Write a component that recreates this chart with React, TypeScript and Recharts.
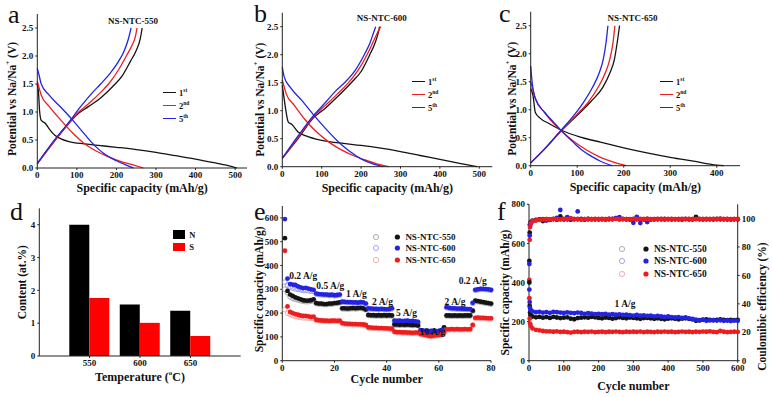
import React from 'react'
import {
  LineChart, Line, BarChart, Bar, ScatterChart, Scatter, XAxis, YAxis, Label, ReferenceDot,
} from 'recharts'

const W = 773
const H = 397
const FONT = '"Liberation Serif", "Times New Roman", serif'
const INK = '#111'
const BLACK = '#141414'
const RED = '#ee1d1d'
const BLUE = '#2323e0'
const GRAY_RING = '#9a9a9a'
const BLUE_RING = '#8f8ff0'
const RED_RING = '#f29a9a'

// ---- a-c: galvanostatic curves, [capacity mAh/g, potential V]
const a1Dis = [[0, 1.5], [3, 1.35], [6, 1.0], [10, 0.85], [20, 0.8], [30, 0.7], [45, 0.58], [60, 0.52], [80, 0.47], [120, 0.43], [160, 0.4], [200, 0.37], [250, 0.33], [300, 0.28], [350, 0.22], [400, 0.16], [450, 0.09], [490, 0.03], [505, 0]]
const a2Dis = [[0, 1.55], [10, 1.3], [30, 1.1], [60, 0.85], [90, 0.62], [120, 0.43], [150, 0.3], [180, 0.2], [210, 0.12], [240, 0.06], [268, 0]]
const a5Dis = [[0, 1.78], [3, 1.7], [10, 1.5], [30, 1.3], [60, 1.08], [90, 0.85], [120, 0.6], [145, 0.4], [170, 0.25], [200, 0.13], [225, 0.05], [243, 0]]
const a1Chg = [[0, 0.08], [40, 0.45], [80, 0.8], [100, 0.95], [130, 1.1], [160, 1.25], [190, 1.45], [215, 1.65], [235, 1.9], [250, 2.1], [260, 2.3], [265, 2.5]]
const a2Chg = [[0, 0.08], [40, 0.45], [80, 0.8], [100, 0.97], [130, 1.15], [160, 1.35], [180, 1.5], [205, 1.75], [225, 2.0], [240, 2.2], [248, 2.35], [252, 2.5]]
const a5Chg = [[0, 0.08], [40, 0.47], [80, 0.82], [110, 1.1], [140, 1.35], [160, 1.5], [185, 1.7], [205, 1.9], [220, 2.1], [230, 2.3], [237, 2.5]]

const b1Dis = [[0, 1.45], [3, 1.3], [8, 1.05], [15, 0.8], [25, 0.75], [40, 0.62], [60, 0.55], [100, 0.47], [150, 0.42], [200, 0.38], [250, 0.33], [300, 0.27], [350, 0.2], [400, 0.13], [450, 0.06], [495, 0]]
const b2Dis = [[0, 1.55], [10, 1.3], [30, 1.1], [60, 0.82], [90, 0.6], [120, 0.43], [150, 0.3], [180, 0.2], [210, 0.12], [240, 0.05], [270, 0]]
const b5Dis = [[0, 1.78], [5, 1.6], [20, 1.42], [50, 1.18], [80, 0.92], [110, 0.68], [140, 0.46], [170, 0.28], [200, 0.14], [230, 0.05], [255, 0]]
const b1Chg = [[0, 0.15], [40, 0.5], [80, 0.88], [110, 1.05], [140, 1.25], [175, 1.5], [200, 1.7], [222, 2.0], [235, 2.2], [242, 2.35], [247, 2.5]]
const b2Chg = [[0, 0.15], [40, 0.52], [80, 0.9], [110, 1.1], [140, 1.3], [168, 1.5], [195, 1.75], [215, 2.0], [232, 2.25], [242, 2.4], [250, 2.5]]
const b5Chg = [[0, 0.15], [40, 0.55], [80, 0.92], [110, 1.15], [135, 1.35], [158, 1.5], [185, 1.72], [208, 2.0], [222, 2.2], [232, 2.4], [237, 2.5]]

const c1Dis = [[0, 1.38], [5, 1.25], [10, 0.95], [20, 0.85], [40, 0.75], [70, 0.62], [100, 0.53], [150, 0.42], [200, 0.32], [250, 0.23], [300, 0.15], [350, 0.08], [400, 0.01], [415, 0]]
const c2Dis = [[0, 1.5], [10, 1.2], [30, 0.95], [50, 0.75], [65, 0.63], [90, 0.45], [120, 0.28], [150, 0.15], [180, 0.06], [205, 0]]
const c5Dis = [[0, 1.78], [3, 1.5], [10, 1.2], [30, 0.95], [50, 0.77], [65, 0.63], [90, 0.43], [110, 0.28], [130, 0.17], [150, 0.08], [175, 0]]
const c1Chg = [[0, 0.05], [30, 0.3], [65, 0.62], [100, 0.9], [130, 1.15], [155, 1.4], [170, 1.65], [180, 1.9], [186, 2.2], [191, 2.5]]
const c2Chg = [[0, 0.05], [30, 0.3], [65, 0.62], [100, 0.92], [125, 1.15], [145, 1.4], [160, 1.65], [170, 1.9], [177, 2.2], [181, 2.5]]
const c5Chg = [[0, 0.05], [30, 0.3], [65, 0.63], [95, 0.92], [115, 1.15], [133, 1.4], [147, 1.65], [156, 1.9], [162, 2.2], [166, 2.5]]

// ---- d: heteroatom content
const temps = ['550', '600', '650']
const nContent = [4.0, 1.57, 1.38]
const sContent = [1.77, 1.01, 0.61]

// ---- e: rate test, cycles 1-80
const rateCycles = Array.from({ length: 80 }, (_, i) => i + 1)
const e550 = [515, 293, 278, 272, 266, 262, 258, 254, 252, 252, 254, 258,
  242, 240, 240, 238, 238, 240, 240, 242, 243, 245,
  220, 220, 219, 220, 221, 220, 221, 222, 220, 215,
  192, 191, 191, 190, 191, 190, 191, 190, 191, 190,
  152, 152, 151, 152, 151, 152, 151, 150, 151, 148,
  120, 118, 117, 118, 117, 116, 118, 117, 120, 140,
  190, 190, 189, 190, 189, 190, 189, 190, 190, 190,
  210, 252, 250, 248, 246, 244, 242, 240]
const e600 = [595, 345, 322, 320, 318, 312, 308, 305, 306, 303, 300, 298,
  282, 280, 279, 278, 278, 276, 277, 275, 276, 278,
  248, 247, 246, 246, 245, 245, 244, 246, 245, 240,
  220, 219, 218, 218, 217, 218, 217, 216, 217, 220,
  168, 167, 168, 166, 167, 168, 166, 167, 165, 163,
  128, 126, 125, 124, 125, 126, 124, 125, 128, 130,
  225, 222, 220, 220, 219, 219, 218, 218, 217, 217,
  243, 298, 300, 302, 302, 301, 300, 298]
const e650 = [462, 228, 205, 200, 196, 193, 190, 188, 188, 186, 184, 185,
  172, 170, 169, 168, 168, 167, 168, 168, 167, 168,
  158, 156, 155, 155, 154, 154, 153, 153, 152, 150,
  140, 139, 138, 138, 137, 137, 136, 136, 135, 135,
  122, 120, 120, 119, 119, 118, 118, 117, 118, 118,
  112, 110, 108, 105, 103, 105, 107, 108, 110, 118,
  132, 132, 133, 132, 133, 132, 132, 133, 132, 133,
  150, 180, 181, 180, 180, 179, 178, 178]
const e550Open = [300, 285, 268, 262, 258, 255, 252, 250, 248, 248, 250, 252,
  240, 238, 238, 236, 236, 238, 238, 240, 241, 243,
  218, 218, 217, 218, 219, 218, 219, 220, 218, 214,
  190, 189, 189, 188, 189, 188, 189, 188, 189, 188,
  150, 150, 149, 150, 149, 150, 149, 148, 149, 147,
  118, 116, 115, 116, 115, 114, 116, 115, 118, 138,
  188, 188, 187, 188, 187, 188, 187, 188, 188, 188,
  208, 250, 248, 246, 244, 242, 240, 238]
const e600Open = [330, 318, 310, 305, 302, 300, 298, 296, 296, 294, 292, 292,
  280, 278, 277, 276, 276, 274, 275, 273, 274, 276,
  246, 245, 244, 244, 243, 243, 242, 244, 243, 238,
  218, 217, 216, 216, 215, 216, 215, 214, 215, 218,
  166, 165, 166, 164, 165, 166, 164, 165, 163, 161,
  126, 124, 123, 122, 123, 124, 122, 123, 126, 128,
  223, 220, 218, 218, 217, 217, 216, 216, 215, 215,
  241, 296, 298, 300, 300, 299, 298, 296]
const e650Open = [215, 200, 195, 190, 186, 184, 182, 180, 180, 178, 178, 178,
  170, 168, 167, 166, 166, 165, 166, 166, 165, 166,
  156, 154, 153, 153, 152, 152, 151, 151, 150, 148,
  138, 137, 136, 136, 135, 135, 134, 134, 133, 133,
  120, 118, 118, 117, 117, 116, 116, 115, 116, 116,
  110, 108, 106, 103, 101, 103, 105, 106, 108, 116,
  130, 130, 131, 130, 131, 130, 130, 131, 130, 131,
  148, 178, 179, 178, 178, 177, 176, 176]
const rateSteps = [
  { c: 8, v: 359, t: '0.2 A/g' }, { c: 18.4, v: 316, t: '0.5 A/g' }, { c: 28.4, v: 282, t: '1 A/g' },
  { c: 38.4, v: 249, t: '2 A/g' }, { c: 47.6, v: 202, t: '5 A/g' }, { c: 57.6, v: 122, t: '10 A/g' },
  { c: 66.2, v: 249, t: '2 A/g' }, { c: 73, v: 337, t: '0.2 A/g' },
]

// ---- f: long cycling at 1 A/g
const longCycles = [1, 2, 3, 5,
  10, 20, 30, 40, 50, 60, 70, 80, 90, 100,
  110, 120, 130, 140, 150, 160, 170, 180, 190, 200,
  210, 220, 230, 240, 250, 260, 270, 280, 290, 300,
  310, 320, 330, 340, 350, 360, 370, 380, 390, 400,
  410, 420, 430, 440, 450, 460, 470, 480, 490, 500,
  510, 520, 530, 540, 550, 560, 570, 580, 590, 600]
const f550Cap = [510, 280, 245, 232,
  226, 222, 224, 220, 223, 219, 224, 221, 218, 220,
  222, 215, 212, 218, 220, 222, 220, 224, 222, 219,
  217, 221, 219, 215, 218, 222, 219, 217, 221, 219,
  217, 214, 218, 219, 217, 214, 217, 214, 212, 215,
  217, 214, 212, 215, 217, 214, 211, 204, 207, 209,
  211, 209, 207, 209, 211, 209, 207, 209, 207, 209]
const f600Cap = [495, 300, 270, 258,
  252, 248, 250, 246, 248, 245, 250, 248, 246, 244,
  247, 245, 243, 246, 244, 240, 243, 241, 238, 240,
  238, 240, 236, 238, 235, 237, 234, 236, 233, 231,
  234, 230, 232, 229, 231, 227, 229, 226, 224, 226,
  223, 221, 223, 219, 221, 217, 214, 210, 206, 210,
  204, 206, 208, 205, 207, 204, 206, 203, 205, 204]
const f650Cap = [413, 215, 190, 178,
  165, 158, 155, 152, 150, 150, 148, 150, 147, 148,
  146, 144, 147, 148, 146, 148, 147, 149, 146, 147,
  148, 146, 148, 147, 149, 147, 146, 148, 147, 148,
  147, 149, 146, 148, 147, 146, 148, 147, 149, 147,
  148, 146, 147, 149, 147, 148, 146, 148, 147, 149,
  148, 150, 147, 146, 152, 148, 146, 147, 148, 147]
const f550Ce = [55, 90, 96, 97.5,
  98.5, 99, 99.3, 98.2, 99.5, 99, 99.6, 99.2, 101.5, 99.4,
  99.5, 99.2, 99.6, 99.4, 99.7, 99.3, 99.5, 99.6, 99.4, 99.5,
  99.6, 99.3, 99.5, 99.7, 100.2, 99.4, 99.6, 99.5, 99.3, 99.6,
  99.5, 99.4, 99.6, 99.7, 99.3, 99.5, 99.6, 99.4, 99.5, 99.6,
  99.4, 99.6, 99.5, 99.3, 99.6, 99.5, 99.4, 101.2, 99.6, 99.5,
  99.4, 99.6, 99.5, 99.7, 99.4, 99.6, 99.5, 99.3, 99.6, 99.5]
const f600Ce = [50, 88, 95, 97,
  98, 98.8, 99.2, 99.5, 98.6, 99.3, 99.6, 100.4, 106, 99.5,
  101, 99.4, 99.6, 105, 99.3, 99.5, 99.7, 99.4, 99.6, 99.5,
  99.4, 99.6, 99.8, 99.5, 100.3, 101, 99.6, 99.4, 99.5, 97,
  101.2, 96.8, 99.3, 97.5, 99.6, 99.5, 99.4, 99.7, 99.5, 99.6,
  99.5, 99.4, 99.6, 99.5, 99.7, 99.4, 99.5, 99.6, 99.4, 99.5,
  99.6, 99.5, 99.4, 99.6, 99.7, 99.5, 99.4, 99.6, 99.5, 99.4]
const f650Ce = [44, 85, 94, 96.5,
  98, 98.6, 99, 99.2, 99.5, 99.4, 99.7, 99.6, 99.3, 99.8,
  99.6, 100.2, 99.5, 99.7, 99.4, 99.6, 99.8, 99.5, 99.7, 99.6,
  99.8, 99.5, 99.7, 99.6, 99.8, 99.5, 99.7, 99.6, 99.4, 99.7,
  99.6, 99.8, 99.5, 99.7, 99.6, 99.4, 99.7, 99.6, 99.8, 99.5,
  99.7, 99.6, 99.5, 99.8, 99.6, 99.7, 99.5, 99.6, 99.8, 99.5,
  99.7, 99.6, 99.8, 99.5, 99.9, 99.6, 99.7, 99.5, 99.6, 99.7]

const pts = (arr: number[][]) => arr.map(([c, v]) => ({ c, v }))
const zipC = (xs: number[], ys: number[]) => xs.map((c, i) => ({ c, v: ys[i] }))

const abs: React.CSSProperties = { position: 'absolute', left: 0, top: 0 }
const tickFont = { fontSize: 9, fontWeight: 700, fill: INK, fontFamily: FONT }
const axisLine = { stroke: '#222', strokeWidth: 1 }
const axisProps = { tick: tickFont, tickSize: 2, tickMargin: 2, axisLine, tickLine: { stroke: '#222' } }

// plot box [x0, y0, x1, y1] -> chart margin
const mg = (b: number[], yw: number, xh: number, rw = 0) =>
  ({ left: b[0] - yw, top: b[1], right: W - b[2] - rw, bottom: H - b[3] - xh })

const vTitle = (text: React.ReactNode, dx: number, dy = 0) => (p: any) => {
  const { x, y, height } = p.viewBox
  return (
    <text transform={`translate(${x + dx},${y + height / 2 + dy}) rotate(-90)`} textAnchor="middle"
      dominantBaseline="central" fontSize={11.5} fontWeight={700} fontFamily={FONT} fill={INK}>{text}</text>
  )
}
const hTitle = (text: React.ReactNode, dy: number, dx = 0) => (p: any) => {
  const { x, y, width } = p.viewBox
  return (
    <text x={x + width / 2 + dx} y={y + dy} textAnchor="middle" dominantBaseline="central"
      fontSize={12} fontWeight={700} fontFamily={FONT} fill={INK}>{text}</text>
  )
}

const potential = <>Potential vs Na/Na<tspan dy={-4} fontSize={7}>+</tspan><tspan dy={4}> (V)</tspan></>

function Letter({ ch, x, y }: { ch: string; x: number; y: number }) {
  return <div style={{ position: 'absolute', left: x, top: y, fontSize: 26, fontFamily: FONT, lineHeight: 1, color: INK }}>{ch}</div>
}

function CurveLegend({ x, y }: { x: number; y: number }) {
  const rows = [['1', 'st', BLACK], ['2', 'nd', RED], ['5', 'th', BLUE]]
  return (
    <div style={{ position: 'absolute', left: x, top: y, fontFamily: FONT, fontWeight: 700, fontSize: 8.5, color: INK }}>
      {rows.map(([n, s, col]) => (
        <div key={n} style={{ display: 'flex', alignItems: 'center', height: 13 }}>
          <div style={{ width: 13, height: 1.5, background: col, marginRight: 3 }} />
          <span>{n}<sup style={{ fontSize: 5.5 }}>{s}</sup></span>
        </div>
      ))}
    </div>
  )
}

function Title({ text, cx, cy }: { text: string; cx: number; cy: number }) {
  return <div style={{ position: 'absolute', left: cx - 40, top: cy - 6, width: 80, textAlign: 'center', fontFamily: FONT, fontWeight: 700, fontSize: 9, color: INK }}>{text}</div>
}

function CurvePanel({ box, yw, ydx, ydy, xdy, xMax, xTicks, curves }: any) {
  return (
    <div style={abs}>
      <LineChart width={W} height={H} margin={mg(box, yw, 30)}>
        <XAxis type="number" dataKey="c" domain={[0, xMax]} ticks={xTicks} height={30} {...axisProps}>
          <Label content={hTitle('Specific capacity (mAh/g)', xdy)} />
        </XAxis>
        <XAxis xAxisId="top" orientation="top" type="number" dataKey="c" domain={[0, xMax]} height={0} tick={false} tickLine={false} axisLine={axisLine} />
        <YAxis type="number" domain={[0, 2.75]} ticks={[0, 0.5, 1, 1.5, 2, 2.5]} tickFormatter={(v: number) => v.toFixed(1)} width={yw} {...axisProps}>
          <Label content={vTitle(potential, ydx, ydy)} />
        </YAxis>
        <YAxis yAxisId="r" orientation="right" type="number" domain={[0, 1]} width={0} tick={false} tickLine={false} axisLine={axisLine} />
        {curves.map(([d, col]: any, i: number) => (
          <Line key={i} data={pts(d)} dataKey="v" type="monotone" stroke={col} strokeWidth={1.3} dot={false} isAnimationActive={false} />
        ))}
      </LineChart>
    </div>
  )
}

const dot = (fill: string) => (p: any) => <circle cx={p.cx} cy={p.cy} r={2.4} fill={fill} />
const ring = (stroke: string) => (p: any) => <circle cx={p.cx} cy={p.cy} r={2.4} fill="none" stroke={stroke} strokeWidth={0.8} />

function MarkLegend({ x, y, gap, rows, size }: any) {
  return (
    <div style={{ position: 'absolute', left: x, top: y, fontFamily: FONT, fontWeight: 700, fontSize: size, color: INK }}>
      {rows.map(([label, ringCol, dotCol]: string[]) => (
        <div key={label} style={{ display: 'flex', alignItems: 'center', height: gap }}>
          <svg width={gap * 2.6} height={8} style={{ marginRight: 4 }}>
            <circle cx={4} cy={4} r={2.6} fill="none" stroke={ringCol} strokeWidth={0.8} />
            <circle cx={gap * 2.6 - 4} cy={4} r={2.6} fill={dotCol} />
          </svg>
          <span>{label}</span>
        </div>
      ))}
    </div>
  )
}

export default function App() {
  const boxA = [37.3, 14, 247, 168]
  const boxB = [282.3, 12.7, 492.3, 166.7]
  const boxC = [530.7, 11.7, 740, 165.7]
  const boxD = [39.3, 208.3, 240.7, 356]
  const boxE = [282.3, 206, 491, 360.7]
  const boxF = [529, 204.3, 737.7, 360.7]
  const barData = temps.map((t, i) => ({ t, N: nContent[i], S: sContent[i] }))

  return (
    <div style={{ position: 'fixed', left: 0, top: 0, width: W, height: H, background: '#fff', fontFamily: FONT, overflow: 'hidden' }}>
      <CurvePanel box={boxA} yw={37.3} ydx={12} ydy={8} xdy={20} xMax={530} xTicks={[0, 100, 200, 300, 400, 500]}
        curves={[[a1Dis, BLACK], [a1Chg, BLACK], [a2Dis, RED], [a2Chg, RED], [a5Dis, BLUE], [a5Chg, BLUE]]} />
      <CurvePanel box={boxB} yw={28} ydx={6} ydy={10} xdy={21} xMax={533} xTicks={[0, 100, 200, 300, 400, 500]}
        curves={[[b1Dis, BLACK], [b1Chg, BLACK], [b2Dis, RED], [b2Chg, RED], [b5Dis, BLUE], [b5Chg, BLUE]]} />
      <CurvePanel box={boxC} yw={28} ydx={9} ydy={10} xdy={21} xMax={450} xTicks={[0, 100, 200, 300, 400]}
        curves={[[c1Dis, BLACK], [c1Chg, BLACK], [c2Dis, RED], [c2Chg, RED], [c5Dis, BLUE], [c5Chg, BLUE]]} />

      <div style={abs}>
        <BarChart width={W} height={H} margin={mg(boxD, 39.3, 30)} data={barData} barGap={0} barSize={20}>
          <XAxis dataKey="t" padding={{ left: 25, right: 25 }} height={30} {...axisProps}>
            <Label content={hTitle(<>Temperature (<tspan dy={-4} fontSize={7}>o</tspan><tspan dy={4}>C)</tspan></>, 21)} />
          </XAxis>
          <XAxis xAxisId="top" orientation="top" dataKey="t" height={0} tick={false} tickLine={false} axisLine={axisLine} />
          <YAxis type="number" domain={[0, 4.5]} ticks={[0, 1, 2, 3, 4]} width={39.3} {...axisProps}>
            <Label content={vTitle('Content (at.%)', 22)} />
          </YAxis>
          <YAxis yAxisId="r" orientation="right" type="number" domain={[0, 1]} width={0} tick={false} tickLine={false} axisLine={axisLine} />
          <Bar dataKey="N" fill="#000" isAnimationActive={false} />
          <Bar dataKey="S" fill="#ff0000" isAnimationActive={false} />
        </BarChart>
      </div>

      <div style={abs}>
        <ScatterChart width={W} height={H} margin={mg(boxE, 28, 30)}>
          <XAxis type="number" dataKey="c" domain={[0, 80]} ticks={[0, 20, 40, 60, 80]} height={30} {...axisProps}>
            <Label content={hTitle('Cycle number', 18)} />
          </XAxis>
          <XAxis xAxisId="top" orientation="top" type="number" dataKey="c" domain={[0, 80]} height={0} tick={false} tickLine={false} axisLine={axisLine} />
          <YAxis type="number" dataKey="v" domain={[0, 650]} ticks={[0, 100, 200, 300, 400, 500, 600]} width={28} {...axisProps}>
            <Label content={vTitle('Specific capacity (mAh/g)', 5, 6)} />
          </YAxis>
          <YAxis yAxisId="r" orientation="right" type="number" domain={[0, 1]} width={0} tick={false} tickLine={false} axisLine={axisLine} />
          <Scatter data={zipC(rateCycles, e550Open)} shape={ring(GRAY_RING)} isAnimationActive={false} />
          <Scatter data={zipC(rateCycles, e600Open)} shape={ring(BLUE_RING)} isAnimationActive={false} />
          <Scatter data={zipC(rateCycles, e650Open)} shape={ring(RED_RING)} isAnimationActive={false} />
          <Scatter data={zipC(rateCycles, e550)} shape={dot(BLACK)} isAnimationActive={false} />
          <Scatter data={zipC(rateCycles, e600)} shape={dot(BLUE)} isAnimationActive={false} />
          <Scatter data={zipC(rateCycles, e650)} shape={dot(RED)} isAnimationActive={false} />
          {rateSteps.map((s, i) => (
            <ReferenceDot key={i} x={s.c} y={s.v} r={0} fill="none" stroke="none"
              label={{ value: s.t, position: 'center', fontSize: 9.5, fontWeight: 700, fill: INK, fontFamily: FONT }} />
          ))}
        </ScatterChart>
      </div>

      <div style={abs}>
        <ScatterChart width={W} height={H} margin={mg(boxF, 29, 30, 35)}>
          <XAxis type="number" dataKey="c" domain={[0, 600]} ticks={[0, 100, 200, 300, 400, 500, 600]} height={30} {...axisProps}>
            <Label content={hTitle('Cycle number', 25)} />
          </XAxis>
          <XAxis xAxisId="top" orientation="top" type="number" dataKey="c" domain={[0, 600]} height={0} tick={false} tickLine={false} axisLine={axisLine} />
          <YAxis yAxisId="cap" type="number" dataKey="v" domain={[0, 800]} ticks={[0, 200, 400, 600, 800]} width={29} {...axisProps}>
            <Label content={vTitle('Specific capacity (mAh/g)', 5, 10)} />
          </YAxis>
          <YAxis yAxisId="ce" orientation="right" type="number" dataKey="v" domain={[0, 110]} ticks={[0, 20, 40, 60, 80, 100]} width={35} {...axisProps}>
            <Label content={vTitle('Coulomibic efficiency (%)', 24, 24)} />
          </YAxis>
          <Scatter yAxisId="cap" data={zipC(longCycles, f550Cap)} shape={dot(BLACK)} isAnimationActive={false} />
          <Scatter yAxisId="cap" data={zipC(longCycles, f600Cap)} shape={dot(BLUE)} isAnimationActive={false} />
          <Scatter yAxisId="cap" data={zipC(longCycles, f650Cap)} shape={dot(RED)} isAnimationActive={false} />
          <Scatter yAxisId="ce" data={zipC(longCycles, f550Ce)} shape={dot(BLACK)} isAnimationActive={false} />
          <Scatter yAxisId="ce" data={zipC(longCycles, f600Ce)} shape={dot(BLUE)} isAnimationActive={false} />
          <Scatter yAxisId="ce" data={zipC(longCycles, f650Ce)} shape={dot(RED)} isAnimationActive={false} />
          <ReferenceDot yAxisId="cap" x={276} y={294} r={0} fill="none" stroke="none"
            label={{ value: '1 A/g', position: 'center', fontSize: 9.5, fontWeight: 700, fill: INK, fontFamily: FONT }} />
        </ScatterChart>
      </div>

      <Title text="NS-NTC-550" cx={133} cy={22} />
      <Title text="NS-NTC-600" cx={381.7} cy={19} />
      <Title text="NS-NTC-650" cx={632.5} cy={19} />
      <CurveLegend x={163} y={86} />
      <CurveLegend x={412} y={75} />
      <CurveLegend x={660} y={75} />

      <div style={{ position: 'absolute', left: 173.3, top: 228.3, fontFamily: FONT, fontWeight: 700, fontSize: 8.5, color: INK }}>
        {[['N', '#000'], ['S', '#ff0000']].map(([k, col]) => (
          <div key={k} style={{ display: 'flex', alignItems: 'center', height: 12.5 }}>
            <div style={{ width: 12, height: 8.5, background: col, marginRight: 4 }} />{k}
          </div>
        ))}
      </div>

      <MarkLegend x={372} y={231.5} gap={11.3} size={9}
        rows={[['NS-NTC-550', GRAY_RING, BLACK], ['NS-NTC-600', BLUE_RING, BLUE], ['NS-NTC-650', RED_RING, RED]]} />
      <MarkLegend x={618} y={243} gap={12.3} size={9.5}
        rows={[['NS-NTC-550', GRAY_RING, BLACK], ['NS-NTC-600', BLUE_RING, BLUE], ['NS-NTC-650', RED_RING, RED]]} />

      <Letter ch="a" x={8} y={2} />
      <Letter ch="b" x={254} y={1} />
      <Letter ch="c" x={499} y={1} />
      <Letter ch="d" x={10} y={199} />
      <Letter ch="e" x={254} y={199} />
      <Letter ch="f" x={497} y={199} />
    </div>
  )
}
